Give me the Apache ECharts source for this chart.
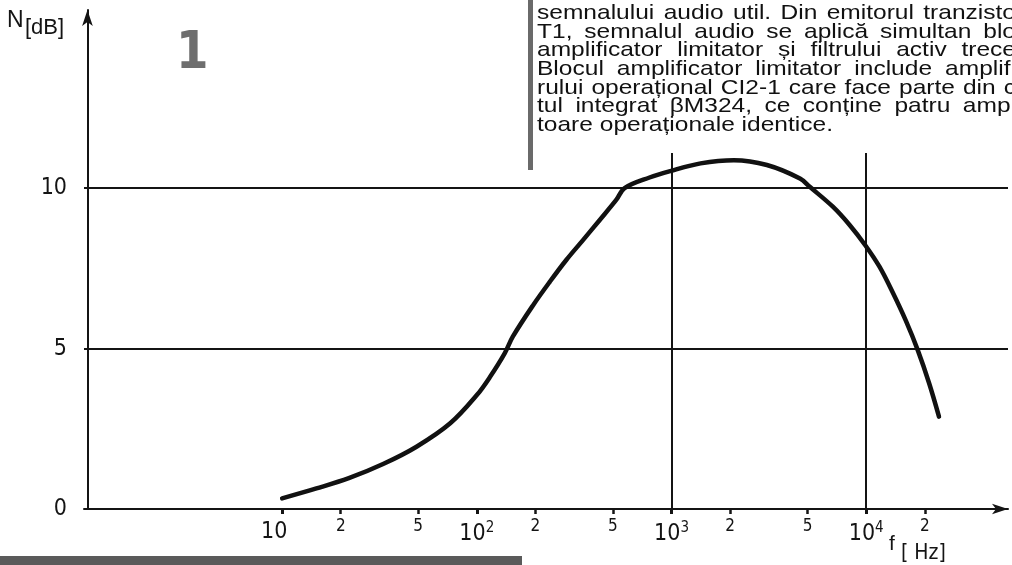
<!DOCTYPE html>
<html>
<head>
<meta charset="utf-8">
<script src="https://cdn.jsdelivr.net/npm/echarts@6/dist/echarts.min.js"></script>
<style>
html,body{margin:0;padding:0;background:#fff;}
#chart{width:1012px;height:565px;}
</style>
</head>
<body>
<div id="chart"></div>
<script>
// frequency response N[dB] vs f[Hz]
const freqHz = [10, 15, 22, 33, 49, 73, 100, 117, 139, 153, 195, 237, 288, 351, 427, 520, 574, 771, 985, 1410, 2090, 3090, 4570, 5130, 6740, 8220, 9890, 11700, 13650, 16000, 18400, 21050, 23650];
const gainDb = [0.33, 0.64, 0.96, 1.40, 1.94, 2.67, 3.55, 4.12, 4.85, 5.37, 6.36, 7.08, 7.76, 8.38, 9.0, 9.63, 10.0, 10.33, 10.53, 10.77, 10.87, 10.72, 10.3, 10.04, 9.42, 8.85, 8.22, 7.55, 6.76, 5.86, 4.95, 3.92, 2.88];
const decadeTicks = [10, 100, 1000, 10000];
const minorTicks = [20, 50, 200, 500, 2000, 5000, 20000];
const yTicks = [0, 5, 10];
const fMinHz = 0.96, fMaxHz = 53500;
const yMax = 15.55;
const textLines = [
  'semnalului audio util. Din emitorul tranzisto',
  'T1, semnalul audio se aplică simultan blo',
  'amplificator limitator și filtrului activ trece',
  'Blocul amplificator limitator include amplifi',
  'rului operațional CI2-1 care face parte din c',
  'tul integrat βM324, ce conține patru ampl',
  'toare operaționale identice.'
];

const lg = Math.log10;
const NARROW = "'Liberation Sans Narrow','DejaVu Sans Condensed',sans-serif";
const SANS = "'Liberation Sans',Arial,sans-serif";
const INK = '#141414';
const NONE = 'rgba(0,0,0,0)';
const sup = {2: '2', 3: '3', 4: '4'};

const chart = echarts.init(document.getElementById('chart'), null, {renderer: 'canvas'});

// justified text block (column continues past the right edge of the picture)
const TXT_FONT = '21px ' + SANS;
const ctx = document.createElement('canvas').getContext('2d');
ctx.font = TXT_FONT;
const colLeft = 537, colRight = 1016, lastLineRight = 833, lineTop = 3, lineStep = 18.6;
const sx = (lastLineRight - colLeft) / ctx.measureText(textLines[textLines.length - 1]).width;
const textGraphics = [];
textLines.forEach((line, i) => {
  const words = line.split(' ');
  const widths = words.map(w => ctx.measureText(w).width * sx);
  const total = widths.reduce((a, b) => a + b, 0);
  const isLast = i === textLines.length - 1;
  const gap = isLast ? ctx.measureText(' ').width * sx : (colRight - colLeft - total) / (words.length - 1);
  let x = colLeft;
  words.forEach((w, j) => {
    textGraphics.push({
      type: 'text', x: x, y: lineTop + i * lineStep, scaleX: sx, z: 12,
      style: {text: w, font: TXT_FONT, fill: '#111', textAlign: 'left', textVerticalAlign: 'top', verticalAlign: 'top'}
    });
    x += widths[j] + gap;
  });
});

const option = {
  backgroundColor: '#ffffff',
  animation: false,
  grid: {left: 84, right: 4, top: 10, bottom: 56, containLabel: false},
  xAxis: [{
    type: 'value', min: lg(fMinHz), max: lg(fMaxHz),
    axisLine: {show: true, symbol: ['none', 'arrow'], symbolSize: [8, 16], lineStyle: {color: INK, width: 2}},
    axisTick: {show: true, length: 5, lineStyle: {color: INK, width: 3},
      customValues: decadeTicks.map(lg)},
    axisLabel: {
      customValues: decadeTicks.map(lg),
      margin: 12,
      formatter: v => {
        const e = Math.round(v);
        if (e === 1) return '{t|10}';
        return '{b|10}{s|' + sup[e] + '}';
      },
      rich: {
        t: {fontFamily: NARROW, fontSize: 23, color: INK, padding: [0, 16, 0, 0]},
        b: {fontFamily: NARROW, fontSize: 23, color: INK},
        s: {fontFamily: NARROW, fontSize: 15, color: INK, padding: [0, 0, 11, 0], verticalAlign: 'top'}
      }
    },
    splitLine: {show: true, lineStyle: {color: [NONE, NONE, INK, INK, INK, INK, NONE], width: 2}}
  }, {
    type: 'value', min: lg(fMinHz), max: lg(fMaxHz), position: 'bottom',
    axisLine: {show: false},
    axisTick: {show: true, length: 5, lineStyle: {color: INK, width: 2.5}, customValues: minorTicks.map(lg)},
    axisLabel: {
      customValues: minorTicks.map(lg), margin: 9,
      fontFamily: NARROW, fontSize: 17, color: INK,
      formatter: v => String(Math.round(Math.pow(10, v - Math.floor(v + 1e-9))))
    },
    splitLine: {show: false}
  }],
  yAxis: {
    type: 'value', min: 0, max: yMax, interval: 5,
    axisLine: {show: true, symbol: ['none', 'arrow'], symbolSize: [8, 16], lineStyle: {color: INK, width: 2}},
    axisTick: {show: false},
    axisLabel: {
      customValues: yTicks, margin: 17, fontFamily: NARROW, fontSize: 23, color: INK,
      formatter: v => String(v)
    },
    splitLine: {show: true, lineStyle: {color: [INK, INK, INK, NONE, NONE], width: 2}}
  },
  series: [{
    type: 'line', xAxisIndex: 0,
    data: freqHz.map((f, i) => [lg(f), gainDb[i]]),
    smooth: 0.35, showSymbol: false,
    lineStyle: {color: '#111', width: 4.5, cap: 'round', join: 'round'},
    z: 5
  }],
  graphic: [
    {type: 'rect', left: 535, top: 0, z: 10, shape: {width: 480, height: 153}, style: {fill: '#fff'}},
    {type: 'rect', left: 528, top: 0, z: 11, shape: {width: 5, height: 170}, style: {fill: '#6a6a6a'}},
    ...textGraphics,
    {type: 'text', left: 176, top: 28, z: 12, style: {text: '1', font: 'bold 52px ' + NARROW, fill: '#6e6e6e'}},
    {type: 'text', left: 7, top: 9, z: 12, style: {text: 'N', font: '23px ' + SANS, fill: INK}},
    {type: 'text', left: 25, top: 17, z: 12, style: {text: '[dB]', font: '22px ' + SANS, fill: INK}},
    {type: 'text', left: 889, top: 534, z: 12, style: {text: 'f', font: '21px ' + SANS, fill: INK}},
    {type: 'text', left: 901, top: 543, z: 12, style: {text: '[ Hz]', font: '21px ' + NARROW, fill: INK}},
    {type: 'rect', left: 0, top: 556, z: 12, shape: {width: 522, height: 9}, style: {fill: '#5a5a5a'}}
  ]
};
chart.setOption(option);
</script>
</body>
</html>
